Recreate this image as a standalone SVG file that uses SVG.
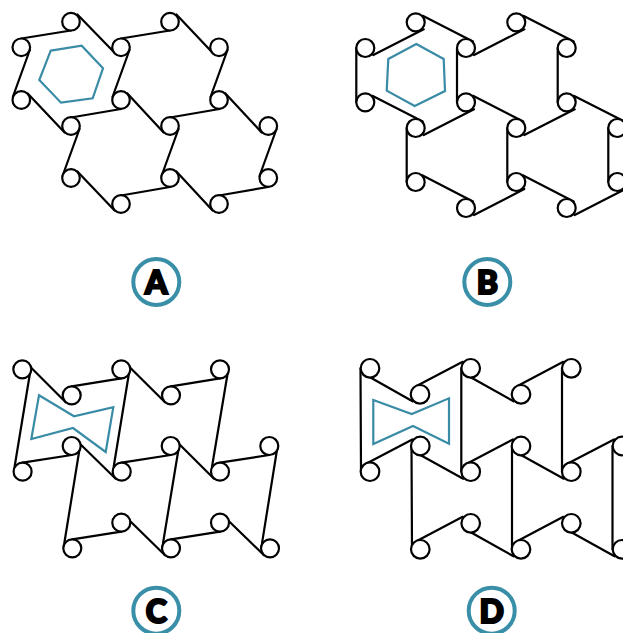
<svg xmlns="http://www.w3.org/2000/svg" width="623" height="633" viewBox="0 0 623 633">
<style>
.e{fill:none;stroke:#000;stroke-width:2.2;stroke-linecap:round}
.n{fill:#fff;stroke:#000;stroke-width:2.2}
.h{fill:none;stroke:#3a8ba5;stroke-width:2.2}
.b{fill:#fff;stroke:#3a8fa8;stroke-width:4}
.t{font-family:Lato,"Liberation Sans",sans-serif;font-weight:900;font-size:32px;text-anchor:middle;fill:#000;stroke:#000;stroke-width:2.2}
</style>
<rect width="623" height="633" fill="#fff"/>
<g id="connectors">
<path class="e" d="M21.3 38.5L71 30.5M121 38.5L170 30.5M71 117.5L121 109M170 117.5L219.5 109M121 195.5L170 187M219 195.5L268 187"/>
<path class="e" d="M77.4 14.5L114.6 52.7M176.4 14.5L212.6 52.7M27.7 93.5L64.6 132.4M127.4 93.5L163.6 132.4M225.4 93.5L261.6 132.4M77.4 171.5L114.6 210.4M176.4 171.5L212.6 210.4"/>
<path class="e" d="M29.8 50L12.8 97M129.5 50L112.5 97M227.5 50L210.5 97M79.5 129L62.5 176M178.5 129L161.5 176M276.5 129L259.5 176"/>
<path class="e" d="M373.3 55L423.7 29.3M474 55L524.3 29.3M423.7 135L474 109.3M524.3 135L574.7 109.3M474 215L524.3 189M574.7 215L625.3 189"/>
<path class="e" d="M422.7 15.8L473 41.5M523.3 15.8L573.7 41.5M372.3 95.8L422.7 121.5M473 95.8L523.3 121.5M573.7 95.8L624.3 121.5M422.7 175.5L473 201.5M523.3 175.5L573.7 201.5"/>
<path class="e" d="M356.3 48L356.3 102.3M457 48L457 102.3M557.7 48L557.7 102.3M406.7 128L406.7 182M507.3 128L507.3 182M608.3 128L608.3 182"/>
<path class="e" d="M28.7 365.3L65.7 402.3M127.7 365.3L165 402.3M78.1 442L115.7 478.7M177.1 442L214 478.7M127.7 518.7L165 555.3M226.4 518.7L264 555.3"/>
<path class="e" d="M71.7 386.3L121.3 378.3M171 386.3L220 378.3M22.6 462.7L71.7 455M121.7 462.7L170.7 455M220 462.7L269.3 455M72.3 539.3L121.3 531.7M171 539.3L220 531.7"/>
<path class="e" d="M30.3 371.3L14.6 466.7M129.3 371.3L113.7 466.7M228 371.3L212 466.7M79.7 448L64.3 543.3M178.7 448L163 543.3M277.3 448L262 543.3"/>
<path class="e" d="M370 377.3L412.5 401.3M470.7 377.3L513.5 401.3M420.3 455L463.2 478.7M521 455L563.8 478.7M470.7 532.3L513.5 556.3M571.3 532.3L614.5 556.3"/>
<path class="e" d="M417 385.8L462.7 361.8M518 385.8L563.3 361.8M367 463.2L412.3 439.5M467.7 463.2L513 439.5M568.3 463.2L614 439.5M417.3 540.8L462.7 516.8M518 540.8L563.3 516.8"/>
<path class="e" d="M360.5 368.3L361 471.7M461.3 368.3L461.3 471.7M562 368.3L562 471.7M411.5 446L412 549.3M512 446L512 549.3M612.5 446L612.5 549.3"/>
</g>
<g id="panel-a">
<g id="a1"><circle class="n" cx="71" cy="21.7" r="8.8"/></g>
<g id="a2"><circle class="n" cx="21.3" cy="47.3" r="8.8"/></g>
<g id="a3"><circle class="n" cx="121" cy="47.3" r="8.8"/></g>
<g id="a4"><circle class="n" cx="21.3" cy="100" r="8.8"/></g>
<g id="a5"><circle class="n" cx="121" cy="100" r="8.8"/></g>
<g id="a6"><circle class="n" cx="71" cy="126" r="8.8"/></g>
<g id="a7"><circle class="n" cx="170" cy="21.7" r="8.8"/></g>
<g id="a8"><circle class="n" cx="219" cy="47.3" r="8.8"/></g>
<g id="a9"><circle class="n" cx="219" cy="100" r="8.8"/></g>
<g id="a10"><circle class="n" cx="170" cy="126" r="8.8"/></g>
<g id="a11"><circle class="n" cx="268.3" cy="126" r="8.8"/></g>
<g id="a12"><circle class="n" cx="71" cy="178" r="8.8"/></g>
<g id="a13"><circle class="n" cx="170" cy="178" r="8.8"/></g>
<g id="a14"><circle class="n" cx="268.3" cy="178" r="8.8"/></g>
<g id="a15"><circle class="n" cx="121" cy="204" r="8.8"/></g>
<g id="a16"><circle class="n" cx="219" cy="204" r="8.8"/></g>
<polygon class="h" points="50.7,50.7 81.7,45.7 103,68.3 92.7,98.3 61,102.7 39.3,80"/>
<g id="label-a"><circle class="b" cx="156.3" cy="282" r="23"/><text class="t" x="156.3" y="294">A</text></g>
</g>
<g id="panel-b">
<g id="b1"><circle class="n" cx="415.7" cy="22.3" r="9"/></g>
<g id="b2"><circle class="n" cx="365.3" cy="48" r="9"/></g>
<g id="b3"><circle class="n" cx="466" cy="48" r="9"/></g>
<g id="b4"><circle class="n" cx="365.3" cy="102.3" r="9"/></g>
<g id="b5"><circle class="n" cx="466" cy="102.3" r="9"/></g>
<g id="b6"><circle class="n" cx="415.7" cy="128" r="9"/></g>
<g id="b7"><circle class="n" cx="516.3" cy="22.3" r="9"/></g>
<g id="b8"><circle class="n" cx="566.7" cy="48" r="9"/></g>
<g id="b9"><circle class="n" cx="566.7" cy="102.3" r="9"/></g>
<g id="b10"><circle class="n" cx="516.3" cy="128" r="9"/></g>
<g id="b11"><circle class="n" cx="617.3" cy="128" r="9"/></g>
<g id="b12"><circle class="n" cx="415.7" cy="182" r="9"/></g>
<g id="b13"><circle class="n" cx="516.3" cy="182" r="9"/></g>
<g id="b14"><circle class="n" cx="617.3" cy="182" r="9"/></g>
<g id="b15"><circle class="n" cx="466" cy="208" r="9"/></g>
<g id="b16"><circle class="n" cx="566.7" cy="208" r="9"/></g>
<polygon class="h" points="416.3,44 443.7,59 445,91 414.7,106 386.7,90.7 388.3,59"/>
<g id="label-b"><circle class="b" cx="487.3" cy="282" r="23"/><text class="t" x="487.3" y="294">B</text></g>
</g>
<g id="panel-c">
<g id="c1"><circle class="n" cx="22.3" cy="369.3" r="9"/></g>
<g id="c2"><circle class="n" cx="71.7" cy="395.3" r="9"/></g>
<g id="c3"><circle class="n" cx="121.3" cy="369.3" r="9"/></g>
<g id="c4"><circle class="n" cx="171" cy="395.3" r="9"/></g>
<g id="c5"><circle class="n" cx="220" cy="369.3" r="9"/></g>
<g id="c6"><circle class="n" cx="22.6" cy="471.7" r="9"/></g>
<g id="c7"><circle class="n" cx="71.7" cy="446" r="9"/></g>
<g id="c8"><circle class="n" cx="121.7" cy="471.7" r="9"/></g>
<g id="c9"><circle class="n" cx="170.7" cy="446" r="9"/></g>
<g id="c10"><circle class="n" cx="220" cy="471.7" r="9"/></g>
<g id="c11"><circle class="n" cx="269.3" cy="446" r="9"/></g>
<g id="c12"><circle class="n" cx="121.3" cy="522.7" r="9"/></g>
<g id="c13"><circle class="n" cx="220" cy="522.7" r="9"/></g>
<g id="c14"><circle class="n" cx="72.3" cy="548.3" r="9"/></g>
<g id="c15"><circle class="n" cx="171" cy="548.3" r="9"/></g>
<g id="c16"><circle class="n" cx="270" cy="548.3" r="9"/></g>
<polygon class="h" points="39,395.3 74,416.3 113.3,407.3 105.7,452 73,428 31.3,439"/>
<g id="label-c"><circle class="b" cx="156.3" cy="610.7" r="23"/><text class="t" x="156.3" y="622.5">C</text></g>
</g>
<g id="panel-d">
<g id="d1"><circle class="n" cx="370" cy="368.3" r="9.3"/></g>
<g id="d2"><circle class="n" cx="420" cy="394.3" r="9.3"/></g>
<g id="d3"><circle class="n" cx="470.7" cy="368.3" r="9.3"/></g>
<g id="d4"><circle class="n" cx="521" cy="394.3" r="9.3"/></g>
<g id="d5"><circle class="n" cx="571.3" cy="368.3" r="9.3"/></g>
<g id="d6"><circle class="n" cx="370" cy="471.7" r="9.3"/></g>
<g id="d7"><circle class="n" cx="420.3" cy="446" r="9.3"/></g>
<g id="d8"><circle class="n" cx="470.7" cy="471.7" r="9.3"/></g>
<g id="d9"><circle class="n" cx="521" cy="446" r="9.3"/></g>
<g id="d10"><circle class="n" cx="571.3" cy="471.7" r="9.3"/></g>
<g id="d11"><circle class="n" cx="622" cy="446" r="9.3"/></g>
<g id="d12"><circle class="n" cx="470.7" cy="523.3" r="9.3"/></g>
<g id="d13"><circle class="n" cx="571.3" cy="523.3" r="9.3"/></g>
<g id="d14"><circle class="n" cx="420.3" cy="549.3" r="9.3"/></g>
<g id="d15"><circle class="n" cx="521" cy="549.3" r="9.3"/></g>
<g id="d16"><circle class="n" cx="622" cy="549.3" r="9.3"/></g>
<polygon class="h" points="373.3,400 411.7,414 449,398.3 449,443.7 413,426 373.3,444"/>
<g id="label-d"><circle class="b" cx="491.7" cy="610.7" r="23"/><text class="t" x="491.7" y="622.5">D</text></g>
</g>
</svg>
